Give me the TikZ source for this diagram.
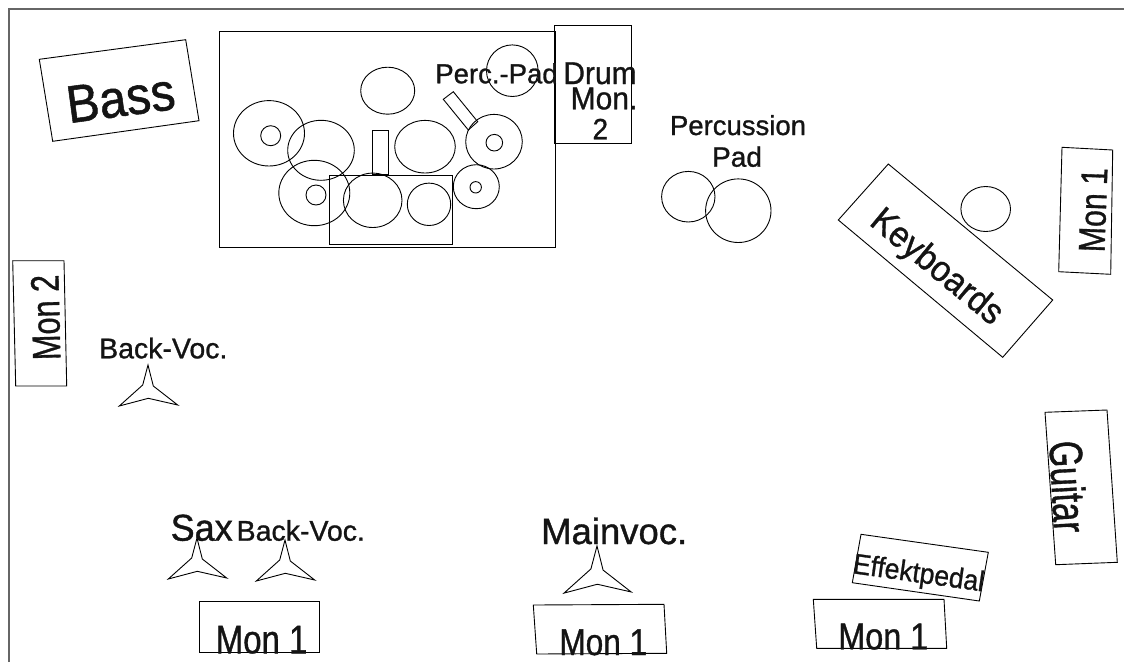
\documentclass[tikz,border=0pt]{standalone}
\usepackage{fontspec}
\setmainfont{Liberation Sans}[FakeBold=1]
\newcommand{\myfs}[1]{\fontsize{#1}{#1}\selectfont}
\tikzset{
  shp/.style={draw=black, line width=0.9pt, line join=miter},
  lbl/.style={inner sep=0pt, outer sep=0pt, text=black!92},
  frame/.style={draw=black!60, line width=1.3pt},
  mic/.pic={\draw[shp] (0,-27) -- (5.3,-6) -- (29.7,13) -- (0.3,6.3) -- (-28.7,14) -- (-5.3,-7) -- cycle;}
}
\begin{document}
\begin{tikzpicture}[x=1pt,y=-1pt]
\useasboundingbox (0,0) rectangle (1124,662);
% outer frame
\draw[frame] (9,662) -- (9,9) -- (1124,9);

% drum kit
\draw[shp] (219,31) rectangle (555,247);
\draw[shp] (554,25) rectangle (631,143);
\draw[shp] (329,175) rectangle (452.3,244.3);
\draw[shp] (372.3,130) rectangle (388.3,174.3);
\draw[shp] (443.3,99.3) -- (453.3,91.7) -- (477.7,121.7) -- (468.3,130) -- cycle;
\draw[shp] (387.7,90.7) ellipse [x radius=27pt, y radius=23.5pt];
\draw[shp] (512.3,70.7) ellipse [x radius=25.8pt, y radius=25.8pt];
\draw[shp] (269,133.3) ellipse [x radius=35.5pt, y radius=32.7pt];
\draw[shp] (270.7,135.7) ellipse [x radius=10pt, y radius=10pt];
\draw[shp] (321,150.3) ellipse [x radius=33.3pt, y radius=30pt];
\draw[shp] (425,146.7) ellipse [x radius=30.3pt, y radius=26.3pt];
\draw[shp] (494,141.7) ellipse [x radius=28.3pt, y radius=27.3pt];
\draw[shp] (494.3,142.7) ellipse [x radius=8.3pt, y radius=8.3pt];
\draw[shp] (314.3,193) ellipse [x radius=35.5pt, y radius=32.7pt];
\draw[shp] (316,195) ellipse [x radius=10pt, y radius=10pt];
\draw[shp] (372.7,200.3) ellipse [x radius=29.3pt, y radius=27.2pt];
\draw[shp] (429,204.3) ellipse [x radius=21.7pt, y radius=21.2pt];
\draw[shp] (476.3,186.7) ellipse [x radius=23pt, y radius=22pt];
\draw[shp] (475.7,187.3) ellipse [x radius=5.7pt, y radius=5.7pt];

% percussion pad circles
\draw[shp] (688.3,196.7) ellipse [x radius=26.7pt, y radius=25.3pt];
\draw[shp] (738.3,210.7) ellipse [x radius=32.7pt, y radius=31.8pt];
% keyboard circle
\draw[shp] (985.7,209) ellipse [x radius=24.8pt, y radius=22.5pt];

% boxes
\draw[shp] (39.3,59.3) -- (185.7,39.7) -- (199,120.7) -- (52.7,141.3) -- cycle;
\draw[shp] (838.3,220) -- (888.3,164) -- (1052.7,300) -- (1002.7,357.3) -- cycle;
\draw[shp] (1062,147.3) -- (1112.7,150) -- (1110.7,274.3) -- (1058.7,271.7) -- cycle;
\draw[shp] (12.7,260.7) -- (64,260.7) -- (66.7,386) -- (15.7,386) -- cycle;
\draw[shp] (1045,412.3) -- (1107,410) -- (1117.3,562.3) -- (1055.7,564.7) -- cycle;
\draw[shp] (861,534.3) -- (988.3,552.3) -- (979.3,601) -- (852.3,582.7) -- cycle;
\draw[shp] (199.3,601.7) rectangle (319,652.7);
\draw[shp] (533.3,605) -- (664,604.3) -- (666.7,653.3) -- (536.7,654) -- cycle;
\draw[shp] (813.3,599.3) -- (944,599.3) -- (946.7,648.3) -- (816.7,648.3) -- cycle;

% microphones
\pic at (148,392) {mic};
\pic at (197,565) {mic};
\pic at (285,567) {mic};
\pic[scale=1.15] at (597,577) {mic};

% labels
\node[lbl, anchor=base, rotate=7.6] (bass) at (123,116) {\myfs{49}\scalebox{1}[1.08]{Bass}};
\node[lbl, anchor=base] (drum) at (600,84) {\myfs{30}\scalebox{1}[1.05]{Drum}};
\node[lbl, anchor=base] (mon) at (604,109.3) {\myfs{30}\scalebox{1}[1.05]{Mon.}};
\node[lbl, anchor=base] (two) at (600.3,139.3) {\myfs{28}\scalebox{1}[1.05]{2}};
\node[lbl, anchor=base] (pp) at (496.5,83.3) {\myfs{27.5}Perc.-Pad};
\node[lbl, anchor=base] (perc) at (738,135) {\myfs{27.5}Percussion};
\node[lbl, anchor=base] (pad) at (737,166.7) {\myfs{28}Pad};
\node[lbl, rotate=-39.6] (kb) at (936,268) {\myfs{33.5}\scalebox{1}[1.08]{Keyboards}};
\node[lbl, rotate=88] (m1r) at (1093.3,210) {\myfs{30.3}\scalebox{1}[1.23]{Mon 1}};
\node[lbl, rotate=91.4] (m2) at (45.8,317.5) {\myfs{30.7}\scalebox{1}[1.29]{Mon 2}};
\node[lbl, anchor=base] (bv1) at (163.3,358.3) {\myfs{28.5}Back-Voc.};
\node[lbl, anchor=base] (sax) at (201.7,540.7) {\myfs{36}\scalebox{1}[1.04]{Sax}};
\node[lbl, anchor=base] (bv2) at (300.8,540.7) {\myfs{28.5}Back-Voc.};
\node[lbl, anchor=base] (mv) at (614.2,544) {\myfs{36.5}Mainvoc.};
\node[lbl, anchor=base] (m1a) at (261.6,653.3) {\myfs{33}\scalebox{1}[1.21]{Mon 1}};
\node[lbl, anchor=base] (m1b) at (603.3,655) {\myfs{31.6}\scalebox{1}[1.18]{Mon 1}};
\node[lbl, anchor=base] (m1c) at (883.3,649.3) {\myfs{32.4}\scalebox{1}[1.15]{Mon 1}};
\node[lbl, rotate=-87] (gt) at (1068.3,486.7) {\myfs{33.7}\scalebox{1}[1.38]{Guitar}};
\node[lbl, rotate=-8] (ef) at (918.5,575) {\myfs{26.5}\scalebox{1}[1.08]{Effektpedal}};
\end{tikzpicture}
\end{document}
